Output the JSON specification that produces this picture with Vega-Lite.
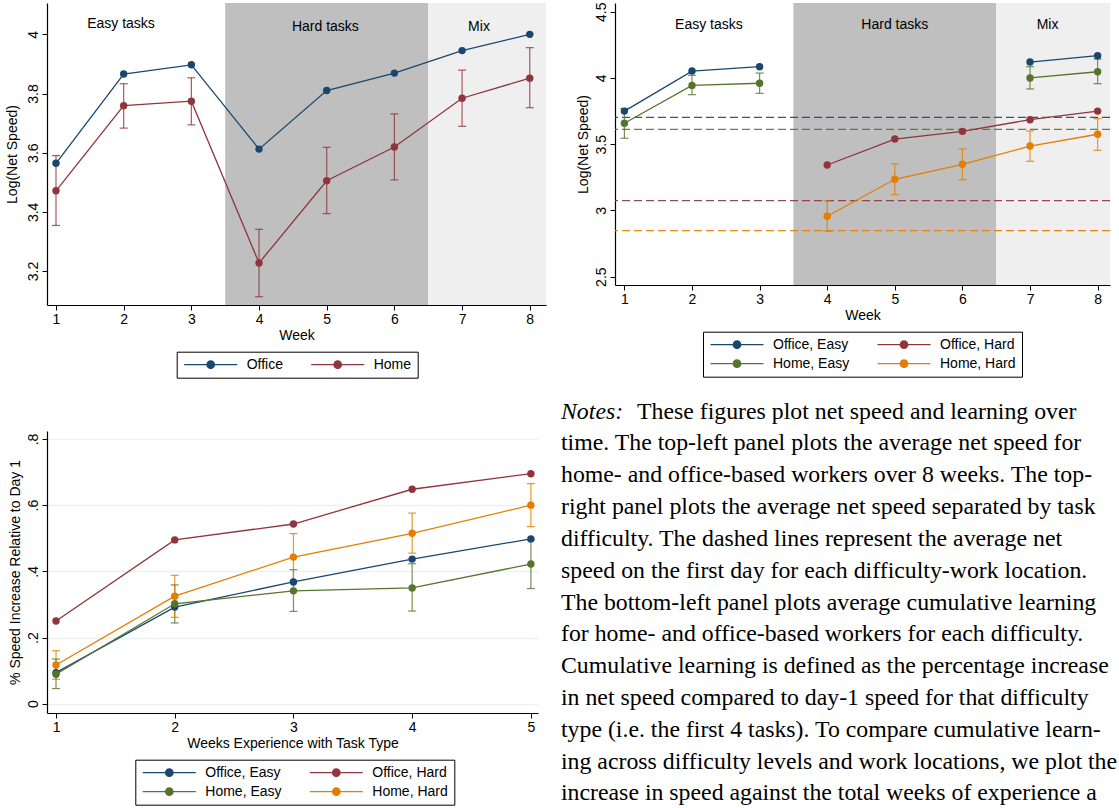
{
  "$schema": "https://vega.github.io/schema/vega-lite/v6.json",
  "background": "white",
  "padding": {"left": 5, "top": 2, "right": 0, "bottom": 0},
  "spacing": 20,
  "resolve": {"scale": {"color": "independent", "fill": "independent", "x": "independent", "y": "independent"}, "legend": {"color": "independent"}},
  "vconcat": [
    {
      "hconcat": [
        {
          "width": 499,
          "height": 302,
          "data": {"values": [
            {"week": 1, "loc": "Office", "value": 3.564},
            {"week": 2, "loc": "Office", "value": 3.866},
            {"week": 3, "loc": "Office", "value": 3.897},
            {"week": 4, "loc": "Office", "value": 3.612},
            {"week": 5, "loc": "Office", "value": 3.810},
            {"week": 6, "loc": "Office", "value": 3.869},
            {"week": 7, "loc": "Office", "value": 3.945},
            {"week": 8, "loc": "Office", "value": 4.000},
            {"week": 1, "loc": "Home", "value": 3.471, "lo": 3.354, "hi": 3.590},
            {"week": 2, "loc": "Home", "value": 3.759, "lo": 3.683, "hi": 3.833},
            {"week": 3, "loc": "Home", "value": 3.774, "lo": 3.694, "hi": 3.853},
            {"week": 4, "loc": "Home", "value": 3.227, "lo": 3.113, "hi": 3.341},
            {"week": 5, "loc": "Home", "value": 3.505, "lo": 3.394, "hi": 3.618},
            {"week": 6, "loc": "Home", "value": 3.619, "lo": 3.508, "hi": 3.731},
            {"week": 7, "loc": "Home", "value": 3.784, "lo": 3.689, "hi": 3.879},
            {"week": 8, "loc": "Home", "value": 3.852, "lo": 3.752, "hi": 3.955}
          ]},
          "encoding": {
            "color": {"field": "loc", "type": "nominal", "scale": {"domain": ["Office", "Home"], "range": ["#1a476f", "#90353b"]},
              "legend": {"title": null, "orient": "none", "legendX": 129.7, "legendY": 348.7, "columns": 2, "direction": "horizontal",
                "encode": {"symbols": {"update": {"fill": {"signal": "datum.value === 'Office' ? '#1a476f' : '#90353b'"}, "stroke": {"signal": "datum.value === 'Office' ? '#1a476f' : '#90353b'"}, "opacity": {"value": 1}}}}}}
          },
          "layer": [
            {
              "data": {"values": [{"week": 3.5, "week_end": 6.5, "kind": "hard"}, {"week": 6.5, "week_end": 9, "kind": "mix"}]},
              "mark": {"type": "rect", "clip": true},
              "encoding": {
                "x": {"field": "week", "type": "quantitative", "scale": {"domain": [0.867, 8.24], "nice": false, "zero": false}, "axis": {"values": [1, 2, 3, 4, 5, 6, 7, 8], "title": "Week", "format": "d"}},
                "x2": {"field": "week_end"},
                "fill": {"field": "kind", "type": "nominal", "scale": {"domain": ["hard", "mix"], "range": ["#bfbfbf", "#efefef"]}, "legend": null}
              }
            },
            {
              "data": {"values": [{"week": 1.96, "value": 4.035, "label": "Easy tasks"}, {"week": 4.98, "value": 4.024, "label": "Hard tasks"}, {"week": 7.25, "value": 4.024, "label": "Mix"}]},
              "mark": {"type": "text", "font": "Liberation Sans", "fontSize": 14, "baseline": "middle"},
              "encoding": {
                "x": {"field": "week", "type": "quantitative", "scale": {"domain": [0.867, 8.24], "nice": false, "zero": false}, "axis": {"values": [1, 2, 3, 4, 5, 6, 7, 8], "title": "Week", "format": "d"}},
                "y": {"field": "value", "type": "quantitative", "scale": {"domain": [3.085, 4.106], "nice": false, "zero": false}, "axis": {"values": [3.2, 3.4, 3.6, 3.8, 4], "title": "Log(Net Speed)", "format": "~g", "titlePadding": 6.8}},
                "text": {"field": "label"},
                "color": {"value": "#000000"}
              }
            },
            {
              "transform": [{"filter": "isValid(datum.lo)"}],
              "mark": {"type": "rule", "strokeWidth": 1.2, "opacity": 0.8},
              "encoding": {
                "x": {"field": "week", "type": "quantitative", "scale": {"domain": [0.867, 8.24], "nice": false, "zero": false}, "axis": {"values": [1, 2, 3, 4, 5, 6, 7, 8], "title": "Week", "format": "d"}},
                "y": {"field": "lo", "type": "quantitative", "scale": {"domain": [3.085, 4.106], "nice": false, "zero": false}, "axis": {"values": [3.2, 3.4, 3.6, 3.8, 4], "title": "Log(Net Speed)", "format": "~g", "titlePadding": 6.8}},
                "y2": {"field": "hi"}
              }
            },
            {
              "transform": [{"filter": "isValid(datum.lo)"}],
              "mark": {"type": "point", "shape": "stroke", "size": 64, "filled": false, "strokeWidth": 1.2, "opacity": 0.8},
              "encoding": {
                "x": {"field": "week", "type": "quantitative", "scale": {"domain": [0.867, 8.24], "nice": false, "zero": false}, "axis": {"values": [1, 2, 3, 4, 5, 6, 7, 8], "title": "Week", "format": "d"}},
                "y": {"field": "lo", "type": "quantitative", "scale": {"domain": [3.085, 4.106], "nice": false, "zero": false}, "axis": {"values": [3.2, 3.4, 3.6, 3.8, 4], "title": "Log(Net Speed)", "format": "~g", "titlePadding": 6.8}}
              }
            },
            {
              "transform": [{"filter": "isValid(datum.hi)"}],
              "mark": {"type": "point", "shape": "stroke", "size": 64, "filled": false, "strokeWidth": 1.2, "opacity": 0.8},
              "encoding": {
                "x": {"field": "week", "type": "quantitative", "scale": {"domain": [0.867, 8.24], "nice": false, "zero": false}, "axis": {"values": [1, 2, 3, 4, 5, 6, 7, 8], "title": "Week", "format": "d"}},
                "y": {"field": "hi", "type": "quantitative", "scale": {"domain": [3.085, 4.106], "nice": false, "zero": false}, "axis": {"values": [3.2, 3.4, 3.6, 3.8, 4], "title": "Log(Net Speed)", "format": "~g", "titlePadding": 6.8}}
              }
            },
            {
              "mark": {"type": "line", "strokeWidth": 1.3},
              "encoding": {
                "x": {"field": "week", "type": "quantitative", "scale": {"domain": [0.867, 8.24], "nice": false, "zero": false}, "axis": {"values": [1, 2, 3, 4, 5, 6, 7, 8], "title": "Week", "format": "d"}},
                "y": {"field": "value", "type": "quantitative", "scale": {"domain": [3.085, 4.106], "nice": false, "zero": false}, "axis": {"values": [3.2, 3.4, 3.6, 3.8, 4], "title": "Log(Net Speed)", "format": "~g", "titlePadding": 6.8}}
              }
            },
            {
              "mark": {"type": "point", "filled": true, "size": 55, "opacity": 1},
              "encoding": {
                "x": {"field": "week", "type": "quantitative", "scale": {"domain": [0.867, 8.24], "nice": false, "zero": false}, "axis": {"values": [1, 2, 3, 4, 5, 6, 7, 8], "title": "Week", "format": "d"}},
                "y": {"field": "value", "type": "quantitative", "scale": {"domain": [3.085, 4.106], "nice": false, "zero": false}, "axis": {"values": [3.2, 3.4, 3.6, 3.8, 4], "title": "Log(Net Speed)", "format": "~g", "titlePadding": 6.8}}
              }
            }
          ]
        },
        {
          "width": 495,
          "height": 282,
          "data": {"values": [
            {"week": 1, "series": "Office, Easy", "block": "a", "value": 3.750},
            {"week": 2, "series": "Office, Easy", "block": "a", "value": 4.052},
            {"week": 3, "series": "Office, Easy", "block": "a", "value": 4.085},
            {"week": 7, "series": "Office, Easy", "block": "b", "value": 4.120},
            {"week": 8, "series": "Office, Easy", "block": "b", "value": 4.168},
            {"week": 1, "series": "Home, Easy", "block": "a", "value": 3.658, "lo": 3.545, "hi": 3.770},
            {"week": 2, "series": "Home, Easy", "block": "a", "value": 3.944, "lo": 3.874, "hi": 4.020},
            {"week": 3, "series": "Home, Easy", "block": "a", "value": 3.960, "lo": 3.884, "hi": 4.037},
            {"week": 7, "series": "Home, Easy", "block": "b", "value": 4.000, "lo": 3.917, "hi": 4.085},
            {"week": 8, "series": "Home, Easy", "block": "b", "value": 4.047, "lo": 3.957, "hi": 4.143},
            {"week": 4, "series": "Office, Hard", "block": "a", "value": 3.343},
            {"week": 5, "series": "Office, Hard", "block": "a", "value": 3.539},
            {"week": 6, "series": "Office, Hard", "block": "a", "value": 3.597},
            {"week": 7, "series": "Office, Hard", "block": "a", "value": 3.685},
            {"week": 8, "series": "Office, Hard", "block": "a", "value": 3.750},
            {"week": 4, "series": "Home, Hard", "block": "a", "value": 2.956, "lo": 2.843, "hi": 3.071},
            {"week": 5, "series": "Home, Hard", "block": "a", "value": 3.235, "lo": 3.119, "hi": 3.353},
            {"week": 6, "series": "Home, Hard", "block": "a", "value": 3.348, "lo": 3.232, "hi": 3.464},
            {"week": 7, "series": "Home, Hard", "block": "a", "value": 3.486, "lo": 3.371, "hi": 3.600},
            {"week": 8, "series": "Home, Hard", "block": "a", "value": 3.575, "lo": 3.454, "hi": 3.693}
          ]},
          "encoding": {
            "color": {"field": "series", "type": "nominal", "scale": {"domain": ["Office, Easy", "Office, Hard", "Home, Easy", "Home, Hard"], "range": ["#1a476f", "#90353b", "#55752f", "#e37e00"]},
              "legend": {"title": null, "orient": "none", "legendX": 88, "legendY": 328.7, "columns": 2, "direction": "horizontal",
                "encode": {"symbols": {"update": {"fill": {"signal": "datum.value === 'Office, Easy' ? '#1a476f' : datum.value === 'Office, Hard' ? '#90353b' : datum.value === 'Home, Easy' ? '#55752f' : '#e37e00'"}, "stroke": {"signal": "datum.value === 'Office, Easy' ? '#1a476f' : datum.value === 'Office, Hard' ? '#90353b' : datum.value === 'Home, Easy' ? '#55752f' : '#e37e00'"}, "opacity": {"value": 1}}}}}}
          },
          "layer": [
            {
              "data": {"values": [{"week": 3.5, "week_end": 6.5, "kind": "hard"}, {"week": 6.5, "week_end": 9, "kind": "mix"}]},
              "mark": {"type": "rect", "clip": true},
              "encoding": {
                "x": {"field": "week", "type": "quantitative", "scale": {"domain": [0.861, 8.183], "nice": false, "zero": false}, "axis": {"values": [1, 2, 3, 4, 5, 6, 7, 8], "title": "Week", "format": "d"}},
                "x2": {"field": "week_end"},
                "fill": {"field": "kind", "type": "nominal", "scale": {"domain": ["hard", "mix"], "range": ["#bfbfbf", "#efefef"]}, "legend": null}
              }
            },
            {
              "data": {"values": [
                {"series": "Office, Easy", "base": 3.703},
                {"series": "Home, Easy", "base": 3.612},
                {"series": "Office, Hard", "base": 3.074},
                {"series": "Home, Hard", "base": 2.847}
              ]},
              "mark": {"type": "rule", "strokeDash": [8, 4], "strokeWidth": 1.2, "opacity": 0.9},
              "encoding": {
                "y": {"field": "base", "type": "quantitative", "scale": {"domain": [2.437, 4.566], "nice": false, "zero": false}, "axis": {"values": [2.5, 3, 3.5, 4, 4.5], "title": "Log(Net Speed)", "format": "~g", "titlePadding": 3.5}}
              }
            },
            {
              "data": {"values": [{"week": 2.25, "value": 4.40, "label": "Easy tasks"}, {"week": 5.0, "value": 4.40, "label": "Hard tasks"}, {"week": 7.26, "value": 4.40, "label": "Mix"}]},
              "mark": {"type": "text", "font": "Liberation Sans", "fontSize": 14, "baseline": "middle"},
              "encoding": {
                "x": {"field": "week", "type": "quantitative", "scale": {"domain": [0.861, 8.183], "nice": false, "zero": false}, "axis": {"values": [1, 2, 3, 4, 5, 6, 7, 8], "title": "Week", "format": "d"}},
                "y": {"field": "value", "type": "quantitative", "scale": {"domain": [2.437, 4.566], "nice": false, "zero": false}, "axis": {"values": [2.5, 3, 3.5, 4, 4.5], "title": "Log(Net Speed)", "format": "~g", "titlePadding": 3.5}},
                "text": {"field": "label"},
                "color": {"value": "#000000"}
              }
            },
            {
              "transform": [{"filter": "isValid(datum.lo)"}],
              "mark": {"type": "rule", "strokeWidth": 1.2, "opacity": 0.8},
              "encoding": {
                "x": {"field": "week", "type": "quantitative", "scale": {"domain": [0.861, 8.183], "nice": false, "zero": false}, "axis": {"values": [1, 2, 3, 4, 5, 6, 7, 8], "title": "Week", "format": "d"}},
                "y": {"field": "lo", "type": "quantitative", "scale": {"domain": [2.437, 4.566], "nice": false, "zero": false}, "axis": {"values": [2.5, 3, 3.5, 4, 4.5], "title": "Log(Net Speed)", "format": "~g", "titlePadding": 3.5}},
                "y2": {"field": "hi"}
              }
            },
            {
              "transform": [{"filter": "isValid(datum.lo)"}],
              "mark": {"type": "point", "shape": "stroke", "size": 64, "filled": false, "strokeWidth": 1.2, "opacity": 0.8},
              "encoding": {
                "x": {"field": "week", "type": "quantitative", "scale": {"domain": [0.861, 8.183], "nice": false, "zero": false}, "axis": {"values": [1, 2, 3, 4, 5, 6, 7, 8], "title": "Week", "format": "d"}},
                "y": {"field": "lo", "type": "quantitative", "scale": {"domain": [2.437, 4.566], "nice": false, "zero": false}, "axis": {"values": [2.5, 3, 3.5, 4, 4.5], "title": "Log(Net Speed)", "format": "~g", "titlePadding": 3.5}}
              }
            },
            {
              "transform": [{"filter": "isValid(datum.hi)"}],
              "mark": {"type": "point", "shape": "stroke", "size": 64, "filled": false, "strokeWidth": 1.2, "opacity": 0.8},
              "encoding": {
                "x": {"field": "week", "type": "quantitative", "scale": {"domain": [0.861, 8.183], "nice": false, "zero": false}, "axis": {"values": [1, 2, 3, 4, 5, 6, 7, 8], "title": "Week", "format": "d"}},
                "y": {"field": "hi", "type": "quantitative", "scale": {"domain": [2.437, 4.566], "nice": false, "zero": false}, "axis": {"values": [2.5, 3, 3.5, 4, 4.5], "title": "Log(Net Speed)", "format": "~g", "titlePadding": 3.5}}
              }
            },
            {
              "mark": {"type": "line", "strokeWidth": 1.3},
              "encoding": {
                "x": {"field": "week", "type": "quantitative", "scale": {"domain": [0.861, 8.183], "nice": false, "zero": false}, "axis": {"values": [1, 2, 3, 4, 5, 6, 7, 8], "title": "Week", "format": "d"}},
                "y": {"field": "value", "type": "quantitative", "scale": {"domain": [2.437, 4.566], "nice": false, "zero": false}, "axis": {"values": [2.5, 3, 3.5, 4, 4.5], "title": "Log(Net Speed)", "format": "~g", "titlePadding": 3.5}},
                "detail": {"field": "block"}
              }
            },
            {
              "mark": {"type": "point", "filled": true, "size": 55, "opacity": 1},
              "encoding": {
                "x": {"field": "week", "type": "quantitative", "scale": {"domain": [0.861, 8.183], "nice": false, "zero": false}, "axis": {"values": [1, 2, 3, 4, 5, 6, 7, 8], "title": "Week", "format": "d"}},
                "y": {"field": "value", "type": "quantitative", "scale": {"domain": [2.437, 4.566], "nice": false, "zero": false}, "axis": {"values": [2.5, 3, 3.5, 4, 4.5], "title": "Log(Net Speed)", "format": "~g", "titlePadding": 3.5}}
              }
            }
          ]
        }
      ],
      "spacing": 69,
      "bounds": "flush",
      "resolve": {"scale": {"color": "independent", "fill": "independent", "x": "independent", "y": "independent"}, "legend": {"color": "independent"}}
    },
    {
      "hconcat": [
        {
          "width": 491,
          "height": 282,
          "data": {"values": [
            {"week": 1, "series": "Office, Easy", "value": 0.094},
            {"week": 2, "series": "Office, Easy", "value": 0.292},
            {"week": 3, "series": "Office, Easy", "value": 0.368},
            {"week": 4, "series": "Office, Easy", "value": 0.437},
            {"week": 5, "series": "Office, Easy", "value": 0.498},
            {"week": 1, "series": "Office, Hard", "value": 0.250},
            {"week": 2, "series": "Office, Hard", "value": 0.495},
            {"week": 3, "series": "Office, Hard", "value": 0.543},
            {"week": 4, "series": "Office, Hard", "value": 0.648},
            {"week": 5, "series": "Office, Hard", "value": 0.695},
            {"week": 1, "series": "Home, Easy", "value": 0.089, "lo": 0.046, "hi": 0.135},
            {"week": 2, "series": "Home, Easy", "value": 0.302, "lo": 0.244, "hi": 0.359},
            {"week": 3, "series": "Home, Easy", "value": 0.341, "lo": 0.279, "hi": 0.405},
            {"week": 4, "series": "Home, Easy", "value": 0.350, "lo": 0.280, "hi": 0.423},
            {"week": 5, "series": "Home, Easy", "value": 0.422, "lo": 0.348, "hi": 0.495},
            {"week": 1, "series": "Home, Hard", "value": 0.117, "lo": 0.074, "hi": 0.160},
            {"week": 2, "series": "Home, Hard", "value": 0.325, "lo": 0.261, "hi": 0.388},
            {"week": 3, "series": "Home, Hard", "value": 0.443, "lo": 0.371, "hi": 0.514},
            {"week": 4, "series": "Home, Hard", "value": 0.515, "lo": 0.455, "hi": 0.576},
            {"week": 5, "series": "Home, Hard", "value": 0.600, "lo": 0.535, "hi": 0.665}
          ]},
          "encoding": {
            "x": {"field": "week", "type": "quantitative", "scale": {"domain": [0.924, 5.06], "nice": false, "zero": false}, "axis": {"values": [1, 2, 3, 4, 5], "title": "Weeks Experience with Task Type", "format": "d"}},
            "color": {"field": "series", "type": "nominal", "scale": {"domain": ["Office, Easy", "Office, Hard", "Home, Easy", "Home, Hard"], "range": ["#1a476f", "#90353b", "#55752f", "#e37e00"]},
              "legend": {"title": null, "orient": "none", "legendX": 88.3, "legendY": 328.7, "columns": 2, "direction": "horizontal",
                "encode": {"symbols": {"update": {"fill": {"signal": "datum.value === 'Office, Easy' ? '#1a476f' : datum.value === 'Office, Hard' ? '#90353b' : datum.value === 'Home, Easy' ? '#55752f' : '#e37e00'"}, "stroke": {"signal": "datum.value === 'Office, Easy' ? '#1a476f' : datum.value === 'Office, Hard' ? '#90353b' : datum.value === 'Home, Easy' ? '#55752f' : '#e37e00'"}, "opacity": {"value": 1}}}}}}
          },
          "layer": [
            {
              "transform": [{"filter": "isValid(datum.lo)"}],
              "mark": {"type": "rule", "strokeWidth": 1.2, "opacity": 0.8},
              "encoding": {
                "y": {"field": "lo", "type": "quantitative", "scale": {"domain": [-0.028, 0.824], "nice": false, "zero": false}, "axis": {"values": [0, 0.2, 0.4, 0.6, 0.8], "title": "% Speed Increase Relative to Day 1", "format": "~g", "labelExpr": "replace(datum.label, '0.', '.')", "grid": true, "gridColor": "#eaf2f3", "gridWidth": 1.5, "titlePadding": 3.5}},
                "y2": {"field": "hi"}
              }
            },
            {
              "transform": [{"filter": "isValid(datum.lo)"}],
              "mark": {"type": "point", "shape": "stroke", "size": 64, "filled": false, "strokeWidth": 1.2, "opacity": 0.8},
              "encoding": {
                "y": {"field": "lo", "type": "quantitative", "scale": {"domain": [-0.028, 0.824], "nice": false, "zero": false}, "axis": {"values": [0, 0.2, 0.4, 0.6, 0.8], "title": "% Speed Increase Relative to Day 1", "format": "~g", "labelExpr": "replace(datum.label, '0.', '.')", "grid": true, "gridColor": "#eaf2f3", "gridWidth": 1.5, "titlePadding": 3.5}}
              }
            },
            {
              "transform": [{"filter": "isValid(datum.hi)"}],
              "mark": {"type": "point", "shape": "stroke", "size": 64, "filled": false, "strokeWidth": 1.2, "opacity": 0.8},
              "encoding": {
                "y": {"field": "hi", "type": "quantitative", "scale": {"domain": [-0.028, 0.824], "nice": false, "zero": false}, "axis": {"values": [0, 0.2, 0.4, 0.6, 0.8], "title": "% Speed Increase Relative to Day 1", "format": "~g", "labelExpr": "replace(datum.label, '0.', '.')", "grid": true, "gridColor": "#eaf2f3", "gridWidth": 1.5, "titlePadding": 3.5}}
              }
            },
            {
              "mark": {"type": "line", "strokeWidth": 1.3},
              "encoding": {
                "y": {"field": "value", "type": "quantitative", "scale": {"domain": [-0.028, 0.824], "nice": false, "zero": false}, "axis": {"values": [0, 0.2, 0.4, 0.6, 0.8], "title": "% Speed Increase Relative to Day 1", "format": "~g", "labelExpr": "replace(datum.label, '0.', '.')", "grid": true, "gridColor": "#eaf2f3", "gridWidth": 1.5, "titlePadding": 3.5}}
              }
            },
            {
              "mark": {"type": "point", "filled": true, "size": 55, "opacity": 1},
              "encoding": {
                "y": {"field": "value", "type": "quantitative", "scale": {"domain": [-0.028, 0.824], "nice": false, "zero": false}, "axis": {"values": [0, 0.2, 0.4, 0.6, 0.8], "title": "% Speed Increase Relative to Day 1", "format": "~g", "labelExpr": "replace(datum.label, '0.', '.')", "grid": true, "gridColor": "#eaf2f3", "gridWidth": 1.5, "titlePadding": 3.5}}
              }
            }
          ]
        },
        {
          "width": 559,
          "height": 376,
          "data": {"values": [
            {"line": 1, "lead": "Notes:", "text": "These figures plot net speed and learning over"},
            {"line": 2, "text": "time.  The top-left panel plots the average net speed for"},
            {"line": 3, "text": "home- and office-based workers over 8 weeks.  The top-"},
            {"line": 4, "text": "right panel plots the average net speed separated by task"},
            {"line": 5, "text": "difficulty.  The dashed lines represent the average net"},
            {"line": 6, "text": "speed on the first day for each difficulty-work location."},
            {"line": 7, "text": "The bottom-left panel plots average cumulative learning"},
            {"line": 8, "text": "for home- and office-based workers for each difficulty."},
            {"line": 9, "text": "Cumulative learning is defined as the percentage increase"},
            {"line": 10, "text": "in net speed compared to day-1 speed for that difficulty"},
            {"line": 11, "text": "type (i.e. the first 4 tasks).  To compare cumulative learn-"},
            {"line": 12, "text": "ing across difficulty levels and work locations, we plot the"},
            {"line": 13, "text": "increase in speed against the total weeks of experience a"}
          ]},
          "layer": [
            {
              "transform": [{"filter": "datum.line > 1"}],
              "mark": {"type": "text", "align": "left", "baseline": "middle", "font": "Liberation Serif", "fontSize": 23.8, "color": "#000000"},
              "encoding": {
                "x": {"value": 0},
                "y": {"field": "line", "type": "quantitative", "scale": {"domain": [1.607, 13.43], "reverse": true, "nice": false, "zero": false}, "axis": null},
                "text": {"field": "text"}
              }
            },
            {
              "transform": [{"filter": "datum.line == 1"}],
              "mark": {"type": "text", "align": "left", "baseline": "middle", "font": "Liberation Serif", "fontSize": 23.8, "color": "#000000", "dx": 76},
              "encoding": {
                "x": {"value": 0},
                "y": {"field": "line", "type": "quantitative", "scale": {"domain": [1.607, 13.43], "reverse": true, "nice": false, "zero": false}, "axis": null},
                "text": {"field": "text"}
              }
            },
            {
              "transform": [{"filter": "datum.line == 1"}],
              "mark": {"type": "text", "align": "left", "baseline": "middle", "font": "Liberation Serif", "fontSize": 23.8, "fontStyle": "italic", "color": "#000000"},
              "encoding": {
                "x": {"value": 0},
                "y": {"field": "line", "type": "quantitative", "scale": {"domain": [1.607, 13.43], "reverse": true, "nice": false, "zero": false}, "axis": null},
                "text": {"field": "lead"}
              }
            }
          ]
        }
      ],
      "spacing": 23,
      "bounds": "flush",
      "resolve": {"scale": {"color": "independent", "fill": "independent", "x": "independent", "y": "independent"}, "legend": {"color": "independent"}}
    }
  ],
  "config": {
    "view": {"stroke": null},
    "font": "Liberation Sans",
    "axis": {
      "labelFont": "Liberation Sans", "titleFont": "Liberation Sans",
      "labelFontSize": 14, "titleFontSize": 14, "titleFontWeight": "normal",
      "labelColor": "#000000", "titleColor": "#000000",
      "domainColor": "#000000", "tickColor": "#000000", "tickSize": 5, "tickWidth": 1, "domainWidth": 1.2,
      "grid": false, "labelPadding": 2
    },
    "axisX": {"titlePadding": 2, "labelFlush": false},
    "axisY": {"labelAngle": 270, "labelAlign": "center", "labelBaseline": "bottom"},
    "legend": {
      "labelFont": "Liberation Sans", "labelFontSize": 14, "labelColor": "#000000",
      "strokeColor": "#000000", "padding": 6, "columnPadding": 24, "rowPadding": 5,
      "symbolSize": 100, "symbolOffset": 21, "labelOffset": 29,
      "symbolType": "M-5.3,0L5.3,0M0.74,0A0.74,0.74,0,1,1,-0.74,0A0.74,0.74,0,1,1,0.74,0Z",
      "symbolStrokeWidth": 1.3
    }
  }
}
